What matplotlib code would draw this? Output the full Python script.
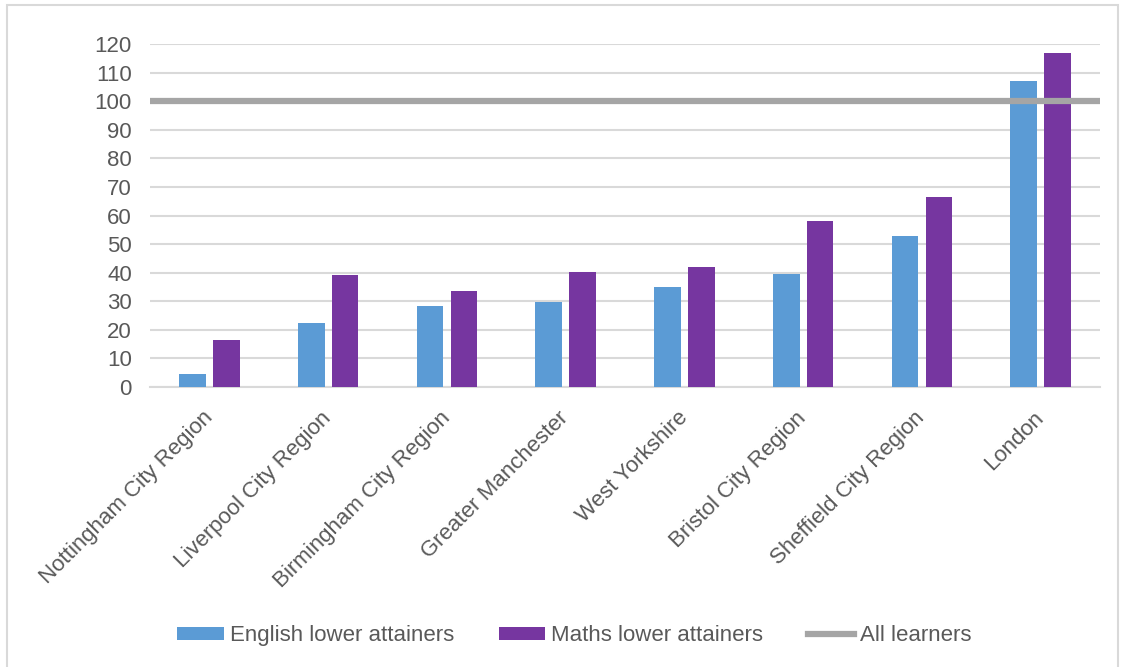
import numpy as np
import matplotlib
matplotlib.use('Agg')
import matplotlib.pyplot as plt
import matplotlib.patches as patches

# valeurs
regions = ['Nottingham City Region', 'Liverpool City Region', 'Birmingham City Region',
           'Greater Manchester', 'West Yorkshire', 'Bristol City Region',
           'Sheffield City Region', 'London']
english = [4.5, 22.3, 28.5, 29.9, 34.9, 39.4, 52.7, 107.1]
maths = [16.4, 39.2, 33.6, 40.2, 42.0, 58.2, 66.4, 116.8]
all_learners = 100
yticks = list(range(0, 121, 10))

plt.rcParams['font.family'] = ['Liberation Sans', 'DejaVu Sans']
text_color = '#595959'
grid_color = '#D9D9D9'

fig = plt.figure(figsize=(11.22, 6.67), dpi=100)
ax = fig.add_axes([0.1337, 0.4198, 0.8467, 0.5142])

x = np.arange(len(regions))
w = 0.225
b1 = ax.bar(x - 0.143, english, w, color='#5B9BD5', label='English lower attainers', zorder=3)
b2 = ax.bar(x + 0.143, maths, w, color='#7636A0', label='Maths lower attainers', zorder=3)
l1 = ax.axhline(all_learners, color='#A5A5A5', lw=4.5, label='All learners', zorder=4)

ax.set_xlim(-0.5, len(regions) - 0.5)
ax.set_ylim(0, 120)
ax.set_yticks(yticks)
ax.set_xticks(x)
ax.set_xticklabels(regions, rotation=45, ha='right', va='center', rotation_mode='anchor')
ax.tick_params(axis='both', length=0, labelsize=16, colors=text_color)
ax.tick_params(axis='y', pad=13)
ax.tick_params(axis='x', pad=20)
ax.yaxis.grid(True, color=grid_color, lw=1.5, zorder=0)
for s in ['top', 'right', 'left']:
    ax.spines[s].set_visible(False)
ax.spines['bottom'].set_color(grid_color)
ax.spines['bottom'].set_linewidth(1.5)

leg = fig.legend([b1, b2, l1], ['English lower attainers', 'Maths lower attainers', 'All learners'],
                 loc='center', bbox_to_anchor=(0.512, 0.0465), ncol=3, frameon=False,
                 fontsize=16, handlelength=2.1, handleheight=0.56,
                 columnspacing=2.0, handletextpad=0.27)
for t in leg.get_texts():
    t.set_color(text_color)

# cadre du graphique
cadre = patches.Rectangle((7 / 1122, -0.05), 1111 / 1122, 1.05 - 5 / 667,
                          transform=fig.transFigure, fill=False,
                          edgecolor=grid_color, lw=1.5)
fig.patches.append(cadre)

fig.savefig('out.png', dpi=100)
